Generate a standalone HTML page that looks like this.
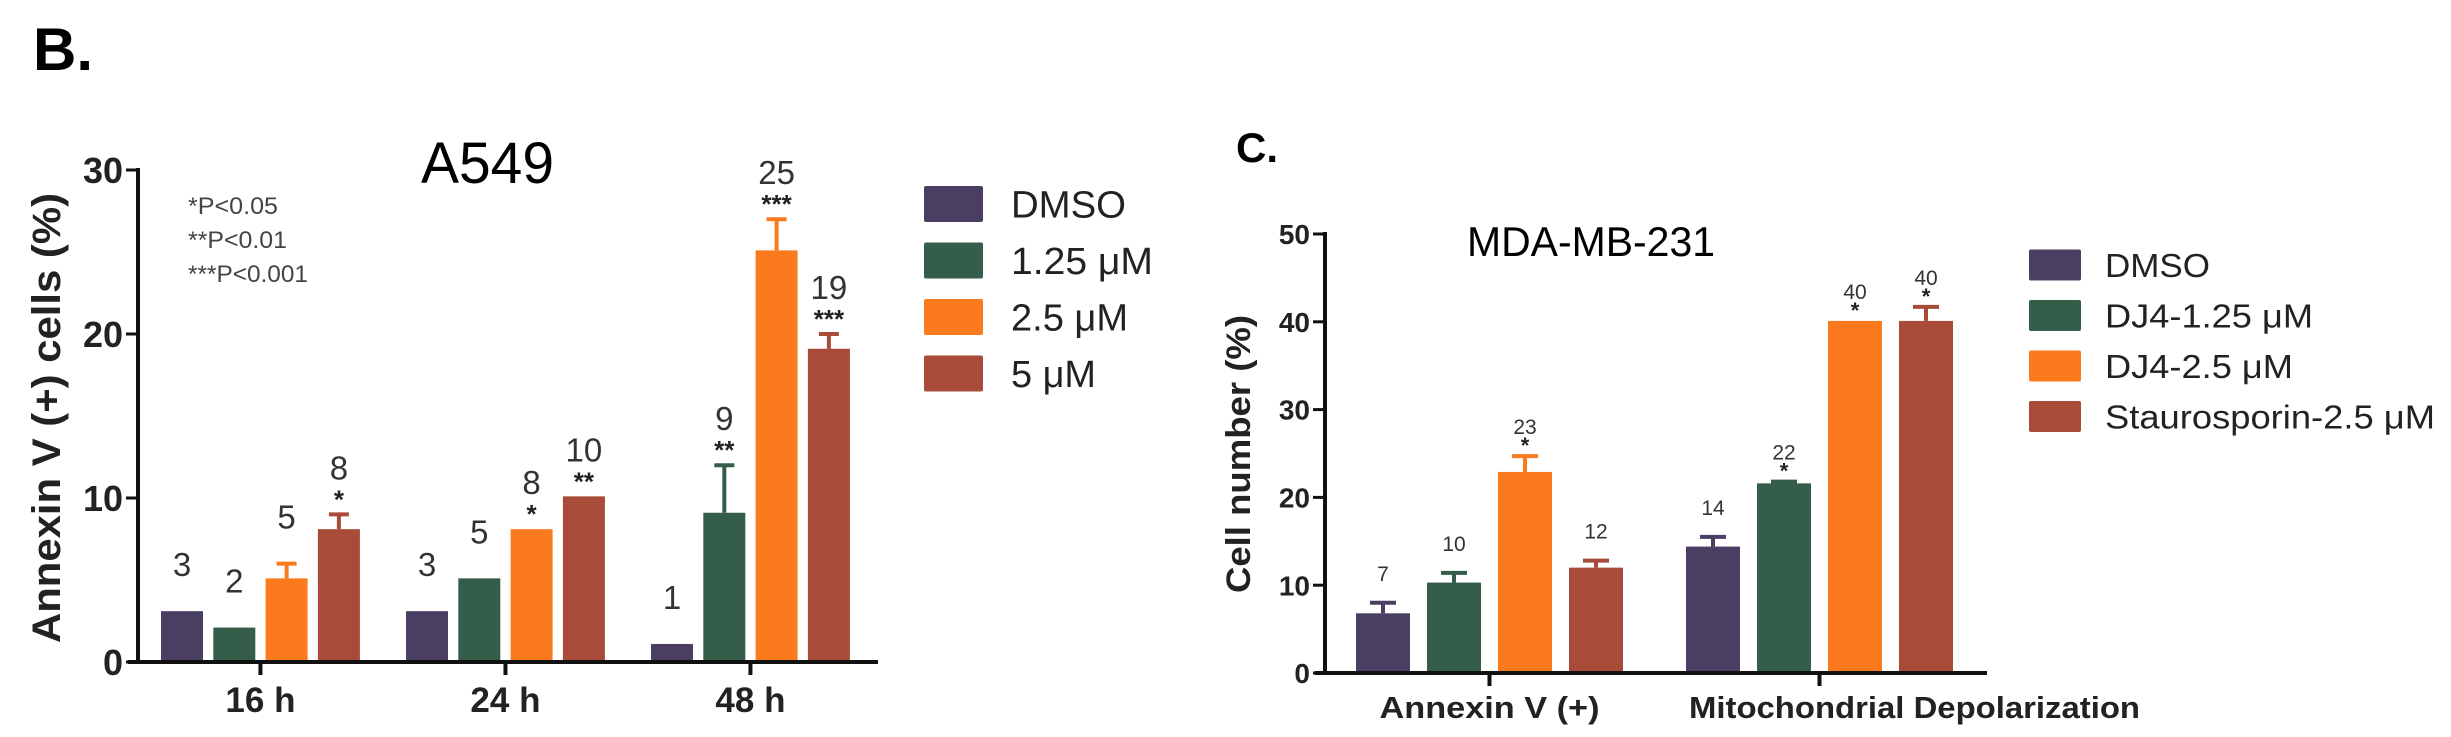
<!DOCTYPE html>
<html><head><meta charset="utf-8"><style>
html,body{margin:0;padding:0;background:#fff;}
svg{display:block;font-family:"Liberation Sans",Arial,sans-serif;}
</style></head><body>
<svg id="fig" width="2451" height="737" viewBox="0 0 2451 737" xmlns="http://www.w3.org/2000/svg">
<text x="33" y="70" font-size="60" font-weight="bold" fill="#000">B.</text>
<text x="1236" y="162" font-size="42" font-weight="bold" fill="#000">C.</text>
<g id="chartB"></g>
<g id="chartC"></g>
</svg>
<script>
const colors = ["#4a3f63", "#345e4a", "#fb7a1e", "#a84b38"];
// Chart B data
const bCategories = ["16 h", "24 h", "48 h"];
const bSeries = ["DMSO", "1.25 μM", "2.5 μM", "5 μM"];
const bValues = [[3.1, 3.1, 1.1], [2.1, 5.1, 9.1], [5.1, 8.1, 25.1], [8.1, 10.1, 19.1]];
const bErrors = [[0, 0, 0], [0, 0, 2.9], [0.9, 0, 1.9], [0.9, 0, 0.9]];
const bLabels = [["3", "3", "1"], ["2", "5", "9"], ["5", "8", "25"], ["8", "10", "19"]];
const bStars = [["", "", ""], ["", "", "**"], ["", "*", "***"], ["*", "**", "***"]];
const bTicks = [0, 10, 20, 30];
// Chart C data
const cCategories = ["Annexin V (+)", "Mitochondrial Depolarization"];
const cSeries = ["DMSO", "DJ4-1.25 μM", "DJ4-2.5 μM", "Staurosporin-2.5 μM"];
const cValues = [[6.8, 14.4], [10.3, 21.6], [22.9, 40.1], [12.0, 40.1]];
const cErrors = [[1.2, 1.1], [1.1, 0.2], [1.8, 0], [0.8, 1.6]];
const cLabels = [["7", "14"], ["10", "22"], ["23", "40"], ["12", "40"]];
const cStars = [["", ""], ["", "*"], ["*", "*"], ["", "*"]];
const cTicks = [0, 10, 20, 30, 40, 50];

const NS = "http://www.w3.org/2000/svg";
function mk(parent, tag, attrs, text) {
  const e = document.createElementNS(NS, tag);
  for (const k in attrs) e.setAttribute(k, attrs[k]);
  if (text !== undefined) e.textContent = text;
  parent.appendChild(e);
  return e;
}

function drawChart(g, o) {
  const y = v => o.y0 - (v - o.ymin) / (o.ymax - o.ymin) * (o.y0 - o.yTop);
  const groupStart = i => o.gx0 + i * o.gPitch;
  const barX = (i, s) => groupStart(i) + s * o.bPitch;
  // bars
  o.values.forEach((ser, s) => {
    ser.forEach((v, i) => {
      const bx = barX(i, s);
      const r = mk(g, "rect", {x: bx, y: y(v), width: o.bw, height: o.y0 - y(v), fill: colors[s]});
      
      
      const err = o.errors[s][i];
      const cx = bx + o.bw / 2;
      let topY = y(v);
      if (err > 0) {
        const ey = y(v + err);
        const l = mk(g, "line", {x1: cx, x2: cx, y1: y(v), y2: ey, stroke: colors[s], "stroke-width": o.errW});
        
        
        const c = mk(g, "line", {x1: cx - o.capW, x2: cx + o.capW, y1: ey, y2: ey, stroke: colors[s], "stroke-width": o.errW});
        
        
        topY = ey;
      }
      const star = o.stars[s][i];
      const t = mk(g, "text", {x: cx, y: topY - o.labelOff, "font-size": o.valFont, fill: "#333", "text-anchor": "middle"}, o.labels[s][i]);
      
      
      if (star) {
        const st = mk(g, "text", {x: cx, y: topY - o.starOff, "font-size": o.starFont, fill: "#222", "text-anchor": "middle", "font-weight": "bold"}, star);
        
        
      }
    });
  });
  // axes
  const ya = mk(g, "line", {x1: o.ax, x2: o.ax, y1: o.yTop - 2, y2: o.y0 + 2, stroke: "#111", "stroke-width": 4});
  
  
  const xa = mk(g, "line", {x1: o.ax - 10, x2: o.xEnd, y1: o.y0, y2: o.y0, stroke: "#111", "stroke-width": 4});
  
  
  o.ticks.forEach(tv => {
    const tl = mk(g, "line", {x1: o.ax - 12, x2: o.ax, y1: y(tv), y2: y(tv), stroke: "#111", "stroke-width": 3});
    
    
    const tt = mk(g, "text", {x: o.ax - 15, y: y(tv) + o.tickFont * 0.36, "font-size": o.tickFont, "font-weight": "bold", fill: "#222", "text-anchor": "end"}, String(tv));
    
    
  });
  o.categories.forEach((c, i) => {
    const cx = groupStart(i) + (3 * o.bPitch + o.bw) / 2;
    const tk = mk(g, "line", {x1: cx, x2: cx, y1: o.y0, y2: o.y0 + 13, stroke: "#111", "stroke-width": 4});
    
    
    const attrs = {x: cx + (o.catShift ? o.catShift[i] : 0), y: o.catY, "font-size": o.catFont, "font-weight": "bold", fill: "#222", "text-anchor": "middle"};
    if (o.catLen) { attrs.textLength = o.catLen[i]; attrs.lengthAdjust = "spacingAndGlyphs"; }
    const ct = mk(g, "text", attrs, c);
    
    
  });
  // y title
  const yt = mk(g, "text", {x: 0, y: 0, "font-size": o.yTitleFont, "font-weight": "bold", fill: "#222", "text-anchor": "middle", transform: "translate(" + o.yTitleX + "," + o.yTitleY + ") rotate(-90)", textLength: o.yTitleLen, lengthAdjust: "spacingAndGlyphs"}, o.yTitle);
  
  
  // title
  const ti = mk(g, "text", {x: o.titleX, y: o.titleY, "font-size": o.titleFont, fill: "#000", textLength: o.titleLen, lengthAdjust: "spacingAndGlyphs"}, o.title);
  
  
  // legend
  o.series.forEach((s, k) => {
    const ly = o.legY0 + k * o.legStep;
    const sw = mk(g, "rect", {x: o.legX, y: ly - o.swH / 2, width: o.swW, height: o.swH, fill: colors[k], rx: 2});
    
    
    const lt = mk(g, "text", {x: o.legTextX, y: ly + o.legFont * 0.36, "font-size": o.legFont, fill: "#222", textLength: o.legLen[k], lengthAdjust: "spacingAndGlyphs"}, s);
    
    
  });
}

const gB = document.getElementById("chartB");
drawChart(gB, {prefix: "b", values: bValues, errors: bErrors, labels: bLabels, stars: bStars, categories: bCategories, series: bSeries, ticks: bTicks,
  ymin: 0, ymax: 30, y0: 662, yTop: 170, ax: 138, xEnd: 878, gx0: 161, gPitch: 245, bPitch: 52.3, bw: 42,
  errW: 4, capW: 10, labelOff: 35, starOff: 6, valFont: 33, starFont: 26, tickFont: 36, catFont: 35, catY: 712,
  yTitle: "Annexin V (+) cells  (%)", yTitleX: 60, yTitleY: 418, yTitleFont: 40, yTitleLen: 450,
  title: "A549", titleX: 421, titleY: 183, titleFont: 58, titleLen: 133,
  legX: 924, legY0: 204, legStep: 56.5, swW: 59, swH: 36, legTextX: 1011, legFont: 38, legLen: [115, 142, 117, 85]});
// p-value note
const pNotes = ["*P<0.05", "**P<0.01", "***P<0.001"];
pNotes.forEach((p, i) => {
  const t = mk(gB, "text", {x: 188, y: 214 + i * 34, "font-size": 24, fill: "#444", textLength: [90, 99, 120][i], lengthAdjust: "spacingAndGlyphs"}, p);
  
  
});

const gC = document.getElementById("chartC");
drawChart(gC, {prefix: "c", values: cValues, errors: cErrors, labels: cLabels, stars: cStars, categories: cCategories, series: cSeries, ticks: cTicks,
  ymin: 0, ymax: 50, y0: 673, yTop: 234, ax: 1325, xEnd: 1987, gx0: 1356, gPitch: 330, bPitch: 71, bw: 54,
  errW: 4, capW: 13, labelOff: 22, starOff: 3, valFont: 21, starFont: 22, tickFont: 28, catFont: 31, catY: 718,
  catShift: [0, 95], catLen: [220, 451],
  yTitle: "Cell number (%)", yTitleX: 1250, yTitleY: 454, yTitleFont: 34, yTitleLen: 278,
  title: "MDA-MB-231", titleX: 1467, titleY: 256, titleFont: 42, titleLen: 248,
  legX: 2029, legY0: 265, legStep: 50.5, swW: 52, swH: 31, legTextX: 2105, legFont: 33, legLen: [105, 208, 188, 330]});
</script>
</body></html>
